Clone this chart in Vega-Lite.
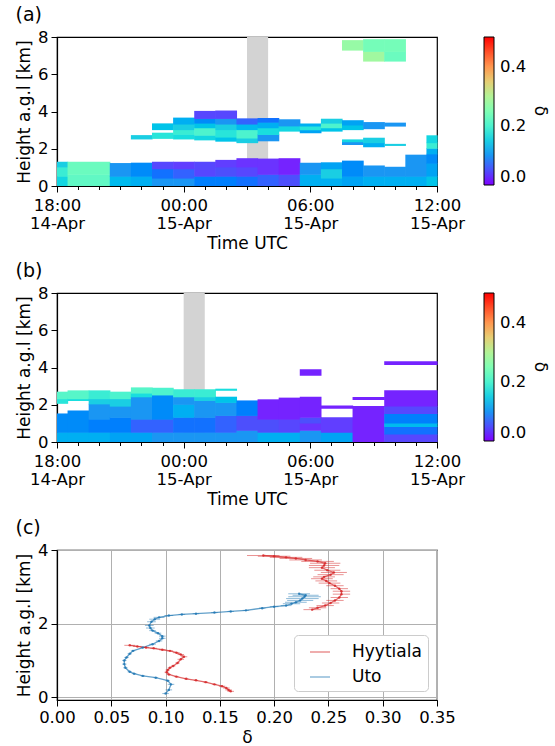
{
"$schema": "https://vega.github.io/schema/vega-lite/v6.json",
"padding": {"left": 14, "top": 5, "right": 0, "bottom": 0},
"background": "white",
"config": {
  "font": "DejaVu Sans",
  "view": {"stroke": "black", "strokeWidth": 1.2},
  "axis": {"domainColor": "black", "domainWidth": 1.2, "tickColor": "black", "labelColor": "black", "titleColor": "black", "labelFontSize": 16.5, "titleFontSize": 17, "titleFontWeight": "normal", "grid": false, "tickSize": 6, "labelPadding": 3},
  "title": {"fontSize": 19, "fontWeight": "normal", "anchor": "start", "color": "black", "offset": 0},
  "legend": {"labelFontSize": 16.5, "titleFontSize": 17, "titleFontWeight": "normal", "labelColor": "black", "titleColor": "black"}
},
"datasets": {
  "a": [
    {"t0":0,"t1":0.5,"h0":0,"h1":0.5,"v":0.16},{"t0":0,"t1":0.5,"h0":0.5,"h1":1.0,"v":0.19},{"t0":0,"t1":0.5,"h0":1.0,"h1":1.27,"v":0.15},
    {"t0":0.5,"t1":2.5,"h0":0,"h1":0.6,"v":0.22},{"t0":0.5,"t1":2.5,"h0":0.6,"h1":1.27,"v":0.23},
    {"t0":2.5,"t1":3.5,"h0":0,"h1":0.5,"v":0.13},{"t0":2.5,"t1":3.5,"h0":0.5,"h1":1.2,"v":0.10},
    {"t0":3.5,"t1":4.5,"h0":0,"h1":0.5,"v":0.12},{"t0":3.5,"t1":4.5,"h0":0.5,"h1":1.22,"v":0.09},
    {"t0":4.5,"t1":5.5,"h0":0,"h1":0.4,"v":0.10},{"t0":4.5,"t1":5.5,"h0":0.4,"h1":0.9,"v":0.07},{"t0":4.5,"t1":5.5,"h0":0.9,"h1":1.27,"v":0.04},
    {"t0":5.5,"t1":6.5,"h0":0,"h1":0.4,"v":0.10},{"t0":5.5,"t1":6.5,"h0":0.4,"h1":0.9,"v":0.06},{"t0":5.5,"t1":6.5,"h0":0.9,"h1":1.27,"v":0.03},
    {"t0":6.5,"t1":7.5,"h0":0,"h1":0.5,"v":0.08},{"t0":6.5,"t1":7.5,"h0":0.5,"h1":1.27,"v":0.04},
    {"t0":7.5,"t1":8.5,"h0":0,"h1":0.5,"v":0.08},{"t0":7.5,"t1":8.5,"h0":0.5,"h1":1.0,"v":0.05},{"t0":7.5,"t1":8.5,"h0":1.0,"h1":1.37,"v":0.03},
    {"t0":8.5,"t1":9.5,"h0":0,"h1":0.5,"v":0.07},{"t0":8.5,"t1":9.5,"h0":0.5,"h1":1.0,"v":0.04},{"t0":8.5,"t1":9.5,"h0":1.0,"h1":1.46,"v":0.02},
    {"t0":9.5,"t1":10.5,"h0":0,"h1":0.6,"v":0.06},{"t0":9.5,"t1":10.5,"h0":0.6,"h1":1.44,"v":0.02},
    {"t0":10.5,"t1":11.5,"h0":0,"h1":0.6,"v":0.05},{"t0":10.5,"t1":11.5,"h0":0.6,"h1":1.46,"v":0.01},
    {"t0":11.5,"t1":12.5,"h0":0,"h1":0.6,"v":0.12},{"t0":11.5,"t1":12.5,"h0":0.6,"h1":1.22,"v":0.10},
    {"t0":12.5,"t1":13.5,"h0":0,"h1":0.4,"v":0.12},{"t0":12.5,"t1":13.5,"h0":0.4,"h1":0.9,"v":0.15},{"t0":12.5,"t1":13.5,"h0":0.9,"h1":1.24,"v":0.11},
    {"t0":13.5,"t1":14.5,"h0":0,"h1":0.5,"v":0.11},{"t0":13.5,"t1":14.5,"h0":0.5,"h1":1.33,"v":0.09},
    {"t0":14.5,"t1":15.5,"h0":0,"h1":0.5,"v":0.12},{"t0":14.5,"t1":15.5,"h0":0.5,"h1":1.07,"v":0.10},
    {"t0":15.5,"t1":16.5,"h0":0,"h1":0.5,"v":0.12},{"t0":15.5,"t1":16.5,"h0":0.5,"h1":1.0,"v":0.10},
    {"t0":16.5,"t1":17.5,"h0":0,"h1":0.5,"v":0.12},{"t0":16.5,"t1":17.5,"h0":0.5,"h1":1.65,"v":0.10},
    {"t0":17.5,"t1":18,"h0":0,"h1":0.5,"v":0.14},{"t0":17.5,"t1":18,"h0":0.5,"h1":1.2,"v":0.11},{"t0":17.5,"t1":18,"h0":1.2,"h1":1.7,"v":0.09},{"t0":17.5,"t1":18,"h0":1.7,"h1":2.0,"v":0.12},{"t0":17.5,"t1":18,"h0":2.0,"h1":2.3,"v":0.19},{"t0":17.5,"t1":18,"h0":2.3,"h1":2.69,"v":0.16},
    {"t0":3.5,"t1":4.5,"h0":2.5,"h1":2.7,"v":0.15},
    {"t0":4.5,"t1":5.5,"h0":2.53,"h1":2.83,"v":0.18},{"t0":4.5,"t1":5.5,"h0":3.0,"h1":3.33,"v":0.14},
    {"t0":5.5,"t1":6.5,"h0":2.5,"h1":2.75,"v":0.17},{"t0":5.5,"t1":6.5,"h0":2.75,"h1":3.0,"v":0.19},{"t0":5.5,"t1":6.5,"h0":3.0,"h1":3.3,"v":0.15},{"t0":5.5,"t1":6.5,"h0":3.3,"h1":3.64,"v":0.12},
    {"t0":6.5,"t1":7.5,"h0":2.45,"h1":2.7,"v":0.16},{"t0":6.5,"t1":7.5,"h0":2.7,"h1":3.1,"v":0.20},{"t0":6.5,"t1":7.5,"h0":3.1,"h1":3.35,"v":0.14},{"t0":6.5,"t1":7.5,"h0":3.35,"h1":3.6,"v":0.09},{"t0":6.5,"t1":7.5,"h0":3.6,"h1":4.0,"v":0.04},
    {"t0":7.5,"t1":8.5,"h0":2.38,"h1":2.6,"v":0.14},{"t0":7.5,"t1":8.5,"h0":2.6,"h1":3.0,"v":0.18},{"t0":7.5,"t1":8.5,"h0":3.0,"h1":3.3,"v":0.15},{"t0":7.5,"t1":8.5,"h0":3.3,"h1":3.6,"v":0.10},{"t0":7.5,"t1":8.5,"h0":3.6,"h1":4.02,"v":0.04},
    {"t0":8.5,"t1":9.5,"h0":2.3,"h1":2.55,"v":0.15},{"t0":8.5,"t1":9.5,"h0":2.55,"h1":3.0,"v":0.20},{"t0":8.5,"t1":9.5,"h0":3.0,"h1":3.3,"v":0.13},{"t0":8.5,"t1":9.5,"h0":3.3,"h1":3.6,"v":0.06},
    {"t0":9.5,"t1":10.5,"h0":2.4,"h1":2.74,"v":0.10},{"t0":9.5,"t1":10.5,"h0":2.74,"h1":3.1,"v":0.17},{"t0":9.5,"t1":10.5,"h0":3.1,"h1":3.4,"v":0.12},{"t0":9.5,"t1":10.5,"h0":3.4,"h1":3.62,"v":0.07},
    {"t0":10.5,"t1":11.5,"h0":2.92,"h1":3.2,"v":0.16},{"t0":10.5,"t1":11.5,"h0":3.2,"h1":3.55,"v":0.10},
    {"t0":11.5,"t1":12.5,"h0":2.83,"h1":3.0,"v":0.11},{"t0":11.5,"t1":12.5,"h0":3.0,"h1":3.2,"v":0.18},{"t0":11.5,"t1":12.5,"h0":3.2,"h1":3.33,"v":0.12},
    {"t0":12.5,"t1":13.5,"h0":2.92,"h1":3.1,"v":0.14},{"t0":12.5,"t1":13.5,"h0":3.1,"h1":3.35,"v":0.20},{"t0":12.5,"t1":13.5,"h0":3.35,"h1":3.58,"v":0.15},
    {"t0":13.5,"t1":14.5,"h0":3.0,"h1":3.25,"v":0.14},{"t0":13.5,"t1":14.5,"h0":3.25,"h1":3.5,"v":0.11},{"t0":13.5,"t1":14.5,"h0":2.2,"h1":2.35,"v":0.10},{"t0":13.5,"t1":14.5,"h0":2.35,"h1":2.47,"v":0.16},
    {"t0":14.5,"t1":15.5,"h0":3.05,"h1":3.4,"v":0.10},{"t0":14.5,"t1":15.5,"h0":2.08,"h1":2.3,"v":0.12},{"t0":14.5,"t1":15.5,"h0":2.3,"h1":2.56,"v":0.15},
    {"t0":15.5,"t1":16.5,"h0":3.19,"h1":3.37,"v":0.10},{"t0":15.5,"t1":16.5,"h0":2.15,"h1":2.23,"v":0.15},
    {"t0":13.5,"t1":14.5,"h0":7.27,"h1":7.8,"v":0.27},
    {"t0":14.5,"t1":15.5,"h0":6.68,"h1":7.2,"v":0.28},{"t0":14.5,"t1":15.5,"h0":7.2,"h1":7.85,"v":0.24},
    {"t0":15.5,"t1":16.5,"h0":6.68,"h1":7.2,"v":0.23},{"t0":15.5,"t1":16.5,"h0":7.2,"h1":7.85,"v":0.24}
  ],
  "b": [
    {"t0":0,"t1":0.5,"h0":0,"h1":0.5,"v":0.12},{"t0":0,"t1":0.5,"h0":0.5,"h1":1.5,"v":0.09},{"t0":0,"t1":0.5,"h0":2.05,"h1":2.3,"v":0.18},{"t0":0,"t1":0.5,"h0":2.3,"h1":2.67,"v":0.21},
    {"t0":0.5,"t1":1.5,"h0":0,"h1":0.5,"v":0.12},{"t0":0.5,"t1":1.5,"h0":0.5,"h1":1.66,"v":0.09},{"t0":0.5,"t1":1.5,"h0":2.2,"h1":2.3,"v":0.17},{"t0":0.5,"t1":1.5,"h0":2.3,"h1":2.74,"v":0.21},
    {"t0":1.5,"t1":2.5,"h0":0,"h1":0.5,"v":0.12},{"t0":1.5,"t1":2.5,"h0":0.5,"h1":1.2,"v":0.08},{"t0":1.5,"t1":2.5,"h0":1.2,"h1":2.02,"v":0.10},{"t0":1.5,"t1":2.5,"h0":2.02,"h1":2.3,"v":0.15},{"t0":1.5,"t1":2.5,"h0":2.3,"h1":2.74,"v":0.19},
    {"t0":2.5,"t1":3.5,"h0":0,"h1":0.5,"v":0.11},{"t0":2.5,"t1":3.5,"h0":0.5,"h1":1.3,"v":0.08},{"t0":2.5,"t1":3.5,"h0":1.3,"h1":1.9,"v":0.10},{"t0":2.5,"t1":3.5,"h0":1.9,"h1":2.3,"v":0.15},{"t0":2.5,"t1":3.5,"h0":2.3,"h1":2.67,"v":0.20},
    {"t0":3.5,"t1":4.5,"h0":0,"h1":0.5,"v":0.11},{"t0":3.5,"t1":4.5,"h0":0.5,"h1":1.2,"v":0.06},{"t0":3.5,"t1":4.5,"h0":1.2,"h1":2.4,"v":0.10},{"t0":3.5,"t1":4.5,"h0":2.4,"h1":2.6,"v":0.17},{"t0":3.5,"t1":4.5,"h0":2.6,"h1":2.9,"v":0.21},
    {"t0":4.5,"t1":5.5,"h0":0,"h1":0.5,"v":0.10},{"t0":4.5,"t1":5.5,"h0":0.5,"h1":1.2,"v":0.06},{"t0":4.5,"t1":5.5,"h0":1.2,"h1":2.5,"v":0.09},{"t0":4.5,"t1":5.5,"h0":2.5,"h1":2.88,"v":0.20},
    {"t0":5.5,"t1":6.5,"h0":0,"h1":0.5,"v":0.10},{"t0":5.5,"t1":6.5,"h0":0.5,"h1":1.3,"v":0.07},{"t0":5.5,"t1":6.5,"h0":1.3,"h1":2.0,"v":0.12},{"t0":5.5,"t1":6.5,"h0":2.0,"h1":2.4,"v":0.10},{"t0":5.5,"t1":6.5,"h0":2.4,"h1":2.8,"v":0.19},
    {"t0":6.5,"t1":7.5,"h0":0,"h1":0.5,"v":0.10},{"t0":6.5,"t1":7.5,"h0":0.5,"h1":1.3,"v":0.07},{"t0":6.5,"t1":7.5,"h0":1.3,"h1":2.2,"v":0.10},{"t0":6.5,"t1":7.5,"h0":2.2,"h1":2.4,"v":0.15},{"t0":6.5,"t1":7.5,"h0":2.4,"h1":2.8,"v":0.19},
    {"t0":7.5,"t1":8.5,"h0":0,"h1":0.5,"v":0.10},{"t0":7.5,"t1":8.5,"h0":0.5,"h1":1.4,"v":0.06},{"t0":7.5,"t1":8.5,"h0":1.4,"h1":2.1,"v":0.10},{"t0":7.5,"t1":8.5,"h0":2.1,"h1":2.4,"v":0.14},{"t0":7.5,"t1":8.5,"h0":2.75,"h1":2.83,"v":0.17},
    {"t0":8.5,"t1":9.5,"h0":0,"h1":0.6,"v":0.10},{"t0":8.5,"t1":9.5,"h0":0.6,"h1":1.4,"v":0.05},{"t0":8.5,"t1":9.5,"h0":1.4,"h1":2.2,"v":0.08},
    {"t0":9.5,"t1":10.5,"h0":0,"h1":0.5,"v":0.12},{"t0":9.5,"t1":10.5,"h0":0.5,"h1":1.2,"v":0.05},{"t0":9.5,"t1":10.5,"h0":1.2,"h1":2.26,"v":0.01},
    {"t0":10.5,"t1":11.5,"h0":0,"h1":0.5,"v":0.12},{"t0":10.5,"t1":11.5,"h0":0.5,"h1":1.2,"v":0.04},{"t0":10.5,"t1":11.5,"h0":1.2,"h1":2.35,"v":0.01},
    {"t0":11.5,"t1":12.5,"h0":0,"h1":0.6,"v":0.10},{"t0":11.5,"t1":12.5,"h0":0.6,"h1":1.0,"v":0.02},{"t0":11.5,"t1":12.5,"h0":1.0,"h1":1.3,"v":0.05},{"t0":11.5,"t1":12.5,"h0":1.3,"h1":2.4,"v":0.01},{"t0":11.5,"t1":12.5,"h0":3.56,"h1":3.87,"v":0.01},
    {"t0":12.5,"t1":14.0,"h0":0,"h1":0.5,"v":0.11},{"t0":12.5,"t1":14.0,"h0":0.5,"h1":1.3,"v":0.03},{"t0":12.5,"t1":14.0,"h0":1.79,"h1":1.93,"v":0.01},
    {"t0":14.0,"t1":15.5,"h0":0,"h1":1.9,"v":0.01},{"t0":14.0,"t1":15.5,"h0":2.26,"h1":2.38,"v":0.01},
    {"t0":15.5,"t1":18,"h0":0,"h1":0.4,"v":0.04},{"t0":15.5,"t1":18,"h0":0.4,"h1":0.8,"v":0.07},{"t0":15.5,"t1":18,"h0":0.8,"h1":1.0,"v":0.13},{"t0":15.5,"t1":18,"h0":1.0,"h1":1.5,"v":0.08},{"t0":15.5,"t1":18,"h0":1.5,"h1":1.9,"v":0.04},{"t0":15.5,"t1":18,"h0":1.9,"h1":2.74,"v":0.01},{"t0":15.5,"t1":18,"h0":4.13,"h1":4.31,"v":0.01}
  ],
  "prof": [
    {"s":"Uto","p":"U","h":0.10,"d":0.100,"e":0.003},{"s":"Uto","p":"U","h":0.20,"d":0.103,"e":0.003},{"s":"Uto","p":"U","h":0.35,"d":0.105,"e":0.003},{"s":"Uto","p":"U","h":0.45,"d":0.102,"e":0.002},{"s":"Uto","p":"U","h":0.53,"d":0.091,"e":0.002},{"s":"Uto","p":"U","h":0.58,"d":0.079,"e":0.002},{"s":"Uto","p":"U","h":0.64,"d":0.071,"e":0.002},{"s":"Uto","p":"U","h":0.69,"d":0.067,"e":0.002},{"s":"Uto","p":"U","h":0.80,"d":0.063,"e":0.002},{"s":"Uto","p":"U","h":0.90,"d":0.062,"e":0.002},{"s":"Uto","p":"U","h":1.00,"d":0.062,"e":0.002},{"s":"Uto","p":"U","h":1.08,"d":0.064,"e":0.002},{"s":"Uto","p":"U","h":1.18,"d":0.067,"e":0.002},{"s":"Uto","p":"U","h":1.26,"d":0.070,"e":0.002},{"s":"Uto","p":"U","h":1.35,"d":0.079,"e":0.002},{"s":"Uto","p":"U","h":1.44,"d":0.088,"e":0.003},{"s":"Uto","p":"U","h":1.53,"d":0.094,"e":0.003},{"s":"Uto","p":"U","h":1.60,"d":0.097,"e":0.003},{"s":"Uto","p":"U","h":1.66,"d":0.097,"e":0.003},{"s":"Uto","p":"U","h":1.74,"d":0.093,"e":0.003},{"s":"Uto","p":"U","h":1.81,"d":0.088,"e":0.003},{"s":"Uto","p":"U","h":1.88,"d":0.086,"e":0.004},{"s":"Uto","p":"U","h":1.95,"d":0.085,"e":0.004},{"s":"Uto","p":"U","h":2.05,"d":0.087,"e":0.004},{"s":"Uto","p":"U","h":2.12,"d":0.090,"e":0.005},{"s":"Uto","p":"U","h":2.17,"d":0.094,"e":0.005},{"s":"Uto","p":"U","h":2.22,"d":0.103,"e":0.004},{"s":"Uto","p":"U","h":2.25,"d":0.115,"e":0.003},{"s":"Uto","p":"U","h":2.27,"d":0.128,"e":0.003},{"s":"Uto","p":"U","h":2.30,"d":0.145,"e":0.003},{"s":"Uto","p":"U","h":2.33,"d":0.160,"e":0.003},{"s":"Uto","p":"U","h":2.36,"d":0.174,"e":0.003},{"s":"Uto","p":"U","h":2.42,"d":0.189,"e":0.003},{"s":"Uto","p":"U","h":2.46,"d":0.200,"e":0.004},{"s":"Uto","p":"U","h":2.49,"d":0.211,"e":0.005},{"s":"Uto","p":"U","h":2.54,"d":0.216,"e":0.008},{"s":"Uto","p":"U","h":2.58,"d":0.220,"e":0.010},{"s":"Uto","p":"U","h":2.63,"d":0.224,"e":0.012},{"s":"Uto","p":"U","h":2.68,"d":0.226,"e":0.015},{"s":"Uto","p":"U","h":2.73,"d":0.228,"e":0.015},{"s":"Uto","p":"U","h":2.77,"d":0.229,"e":0.012},{"s":"Uto","p":"U","h":2.81,"d":0.223,"e":0.010},
    {"s":"Hyytiala","p":"H1","h":0.16,"d":0.160,"e":0.003},{"s":"Hyytiala","p":"H1","h":0.20,"d":0.158,"e":0.003},{"s":"Hyytiala","p":"H1","h":0.25,"d":0.156,"e":0.003},{"s":"Hyytiala","p":"H1","h":0.30,"d":0.152,"e":0.003},{"s":"Hyytiala","p":"H1","h":0.35,"d":0.145,"e":0.002},{"s":"Hyytiala","p":"H1","h":0.41,"d":0.137,"e":0.002},{"s":"Hyytiala","p":"H1","h":0.46,"d":0.128,"e":0.002},{"s":"Hyytiala","p":"H1","h":0.50,"d":0.119,"e":0.002},{"s":"Hyytiala","p":"H1","h":0.56,"d":0.110,"e":0.002},{"s":"Hyytiala","p":"H1","h":0.62,"d":0.103,"e":0.002},{"s":"Hyytiala","p":"H1","h":0.68,"d":0.101,"e":0.002},{"s":"Hyytiala","p":"H1","h":0.74,"d":0.102,"e":0.002},{"s":"Hyytiala","p":"H1","h":0.80,"d":0.104,"e":0.002},{"s":"Hyytiala","p":"H1","h":0.85,"d":0.107,"e":0.002},{"s":"Hyytiala","p":"H1","h":0.93,"d":0.111,"e":0.002},{"s":"Hyytiala","p":"H1","h":1.03,"d":0.114,"e":0.003},{"s":"Hyytiala","p":"H1","h":1.10,"d":0.117,"e":0.003},{"s":"Hyytiala","p":"H1","h":1.16,"d":0.114,"e":0.003},{"s":"Hyytiala","p":"H1","h":1.21,"d":0.110,"e":0.003},{"s":"Hyytiala","p":"H1","h":1.26,"d":0.104,"e":0.003},{"s":"Hyytiala","p":"H1","h":1.29,"d":0.097,"e":0.003},{"s":"Hyytiala","p":"H1","h":1.33,"d":0.089,"e":0.003},{"s":"Hyytiala","p":"H1","h":1.35,"d":0.082,"e":0.003},{"s":"Hyytiala","p":"H1","h":1.38,"d":0.074,"e":0.004},{"s":"Hyytiala","p":"H1","h":1.41,"d":0.067,"e":0.005},
    {"s":"Hyytiala","p":"H2","h":2.38,"d":0.235,"e":0.008},{"s":"Hyytiala","p":"H2","h":2.43,"d":0.240,"e":0.008},{"s":"Hyytiala","p":"H2","h":2.49,"d":0.247,"e":0.008},{"s":"Hyytiala","p":"H2","h":2.56,"d":0.252,"e":0.008},{"s":"Hyytiala","p":"H2","h":2.63,"d":0.256,"e":0.008},{"s":"Hyytiala","p":"H2","h":2.71,"d":0.260,"e":0.008},{"s":"Hyytiala","p":"H2","h":2.80,"d":0.262,"e":0.008},{"s":"Hyytiala","p":"H2","h":2.88,"d":0.262,"e":0.008},{"s":"Hyytiala","p":"H2","h":2.95,"d":0.260,"e":0.008},{"s":"Hyytiala","p":"H2","h":3.03,"d":0.256,"e":0.008},{"s":"Hyytiala","p":"H2","h":3.10,"d":0.251,"e":0.010},{"s":"Hyytiala","p":"H2","h":3.16,"d":0.248,"e":0.010},{"s":"Hyytiala","p":"H2","h":3.22,"d":0.244,"e":0.010},{"s":"Hyytiala","p":"H2","h":3.27,"d":0.246,"e":0.010},{"s":"Hyytiala","p":"H2","h":3.33,"d":0.252,"e":0.012},{"s":"Hyytiala","p":"H2","h":3.39,"d":0.255,"e":0.012},{"s":"Hyytiala","p":"H2","h":3.45,"d":0.249,"e":0.012},{"s":"Hyytiala","p":"H2","h":3.52,"d":0.244,"e":0.012},{"s":"Hyytiala","p":"H2","h":3.58,"d":0.246,"e":0.014},{"s":"Hyytiala","p":"H2","h":3.64,"d":0.247,"e":0.014},{"s":"Hyytiala","p":"H2","h":3.69,"d":0.240,"e":0.015},{"s":"Hyytiala","p":"H2","h":3.73,"d":0.229,"e":0.015},{"s":"Hyytiala","p":"H2","h":3.77,"d":0.220,"e":0.015},{"s":"Hyytiala","p":"H2","h":3.80,"d":0.211,"e":0.015},{"s":"Hyytiala","p":"H2","h":3.83,"d":0.200,"e":0.015},{"s":"Hyytiala","p":"H2","h":3.85,"d":0.190,"e":0.015}
  ]
},
"vconcat": [
  {
    "vconcat": [
      {
        "title": "(a)",
        "width": 380, "height": 149,
        "encoding": {
          "x": {"field": "t0", "type": "quantitative", "scale": {"domain": [0, 18], "nice": false},
                "axis": {"values": [0,1,2,3,4,5,6,7,8,9,10,11,12,13,14,15,16,17,18], "labelExpr": "datum.value==0 ? ['18:00','14-Apr'] : datum.value==6 ? ['00:00','15-Apr'] : datum.value==12 ? ['06:00','15-Apr'] : datum.value==18 ? ['12:00','15-Apr'] : ''", "tickSize": {"condition": {"test": "datum.value % 6 == 0", "value": 6}, "value": 3.5}, "labelOverlap": false, "labelFlush": false, "labelBound": false, "labelLineHeight": 18, "labelPadding": 5, "title": "Time UTC"}},
          "x2": {"field": "t1"}
        },
        "layer": [
          {"data": {"values": [{"t0": 9, "t1": 10}]}, "mark": {"type": "rect", "color": "#d3d3d3"}},
          {"data": {"name": "a"}, "mark": {"type": "rect", "x2Offset": 0.6, "y2Offset": -0.6},
           "encoding": {
             "y": {"field": "h0", "type": "quantitative", "scale": {"domain": [0, 8], "nice": false}, "axis": {"values": [0,2,4,6,8], "title": "Height a.g.l [km]"}},
             "y2": {"field": "h1"},
             "color": {"field": "v", "type": "quantitative",
               "scale": {"domain": [0,0.05,0.1,0.15,0.2,0.25,0.3,0.35,0.4,0.45,0.5], "range": ["#8000ff","#4d4ffc","#1a96f3","#1acee3","#4df3ce","#80ffb4","#b3f396","#e6ce74","#ff964f","#ff4f28","#ff0000"]},
               "legend": {"type": "gradient", "values": [0, 0.2, 0.4], "format": ".1f", "title": "δ", "direction": "vertical", "gradientLength": 148, "gradientThickness": 10, "gradientStrokeColor": "black", "gradientStrokeWidth": 1, "offset": 47, "labelOffset": 6, "titleOrient": "right", "titleAngle": 270, "titleAnchor": "middle", "titleBaseline": "bottom"}}
           }}
        ]
      },
      {
        "title": "(b)",
        "width": 380, "height": 149,
        "encoding": {
          "x": {"field": "t0", "type": "quantitative", "scale": {"domain": [0, 18], "nice": false},
                "axis": {"values": [0,1,2,3,4,5,6,7,8,9,10,11,12,13,14,15,16,17,18], "labelExpr": "datum.value==0 ? ['18:00','14-Apr'] : datum.value==6 ? ['00:00','15-Apr'] : datum.value==12 ? ['06:00','15-Apr'] : datum.value==18 ? ['12:00','15-Apr'] : ''", "tickSize": {"condition": {"test": "datum.value % 6 == 0", "value": 6}, "value": 3.5}, "labelOverlap": false, "labelFlush": false, "labelBound": false, "labelLineHeight": 18, "labelPadding": 5, "title": "Time UTC"}},
          "x2": {"field": "t1"}
        },
        "layer": [
          {"data": {"values": [{"t0": 6, "t1": 7}]}, "mark": {"type": "rect", "color": "#d3d3d3"}},
          {"data": {"name": "b"}, "mark": {"type": "rect", "x2Offset": 0.6, "y2Offset": -0.6},
           "encoding": {
             "y": {"field": "h0", "type": "quantitative", "scale": {"domain": [0, 8], "nice": false}, "axis": {"values": [0,2,4,6,8], "title": "Height a.g.l [km]"}},
             "y2": {"field": "h1"},
             "color": {"field": "v", "type": "quantitative",
               "scale": {"domain": [0,0.05,0.1,0.15,0.2,0.25,0.3,0.35,0.4,0.45,0.5], "range": ["#8000ff","#4d4ffc","#1a96f3","#1acee3","#4df3ce","#80ffb4","#b3f396","#e6ce74","#ff964f","#ff4f28","#ff0000"]},
               "legend": {"type": "gradient", "values": [0, 0.2, 0.4], "format": ".1f", "title": "δ", "direction": "vertical", "gradientLength": 148, "gradientThickness": 10, "gradientStrokeColor": "black", "gradientStrokeWidth": 1, "offset": 47, "labelOffset": 6, "titleOrient": "right", "titleAngle": 270, "titleAnchor": "middle", "titleBaseline": "bottom"}}
           }}
        ]
      }
    ],
    "spacing": 8,
    "resolve": {"scale": {"color": "independent"}}
  },
  {
    "title": "(c)",
    "width": 380, "height": 150,
    "data": {"name": "prof"},
    "encoding": {
      "x": {"field": "d", "type": "quantitative", "scale": {"domain": [0, 0.35], "nice": false}, "axis": {"values": [0,0.05,0.1,0.15,0.2,0.25,0.3,0.35], "format": ".2f", "grid": true, "gridColor": "#b0b0b0", "title": "δ", "labelFlush": false}},
      "y": {"field": "h", "type": "quantitative", "scale": {"domain": [-0.075, 4], "nice": false}, "axis": {"values": [0,2,4], "grid": true, "gridColor": "#b0b0b0", "title": "Height a.g.l [km]"}},
      "color": {"field": "s", "type": "nominal", "scale": {"domain": ["Hyytiala", "Uto"], "range": ["#d62728", "#1f77b4"]},
        "legend": {"title": null, "orient": "bottom-right", "offset": 9, "fillColor": "white", "strokeColor": "#cccccc", "cornerRadius": 4, "padding": 6, "symbolType": "stroke", "symbolSize": 400, "symbolStrokeWidth": 1.5, "symbolOffset": 9, "labelFontSize": 17, "rowPadding": 6, "labelOffset": 21}}
    },
    "layer": [
      {"mark": {"type": "errorbar", "opacity": 0.5}, "encoding": {"xError": {"field": "e"}, "detail": {"field": "p"}}},
      {"mark": {"type": "line", "strokeWidth": 1.3, "opacity": 0.7}, "encoding": {"detail": {"field": "p"}, "order": {"field": "h"}}},
      {"mark": {"type": "point", "filled": true, "size": 6, "opacity": 0.8}}
    ]
  }
],
"spacing": 9,
"resolve": {"scale": {"color": "independent"}}
}
